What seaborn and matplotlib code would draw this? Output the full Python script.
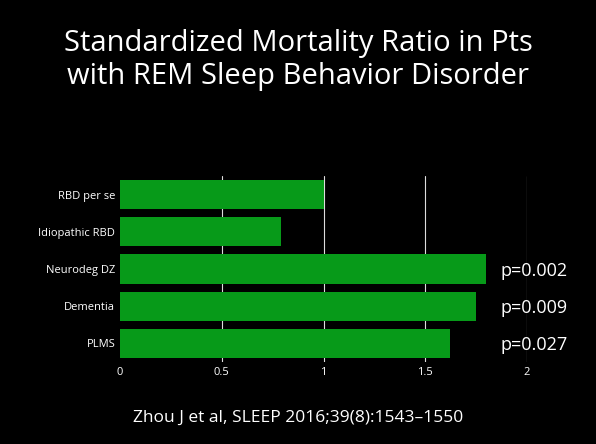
import matplotlib
matplotlib.use("Agg")
import matplotlib.pyplot as plt
import seaborn as sns
import pandas as pd

categories = ["RBD per se", "Idiopathic RBD", "Neurodeg DZ", "Dementia", "PLMS"]
smr = [1.0, 0.79, 1.80, 1.75, 1.62]
p_labels = ["", "", "p=0.002", "p=0.009", "p=0.027"]
xticks = [0, 0.5, 1, 1.5, 2]
xtick_labels = ["0", "0.5", "1", "1.5", "2"]

df = pd.DataFrame({"group": categories, "smr": smr})

sns.set_theme(style="dark")
plt.rcParams["font.family"] = ["Open Sans", "DejaVu Sans"]
plt.rcParams["text.color"] = "white"

fig = plt.figure(figsize=(5.96, 4.44), dpi=100, facecolor="black")
ax = fig.add_axes([120 / 596, 1 - 362 / 444, (527 - 120) / 596, (362 - 176) / 444])
ax.set_facecolor("black")

for x in xticks[1:]:
    ax.axvline(x, color="#dddddd", lw=0.8, zorder=0)

sns.barplot(data=df, x="smr", y="group", ax=ax, color="#079a19",
            saturation=1, width=0.78, zorder=2, edgecolor="none", linewidth=0)

for i, lab in enumerate(p_labels):
    if lab:
        ax.text(1.87, i + 0.05, lab, color="white", fontsize=13, va="center",
                ha="left", clip_on=False)

ax.set_xlim(0, 2)
ax.set_xticks(xticks)
ax.set_xticklabels(xtick_labels, color="white", fontsize=8)
ax.tick_params(axis="y", colors="white", labelsize=8, length=0)
ax.tick_params(axis="x", length=0)
ax.set_xlabel("")
ax.set_ylabel("")
for s in ax.spines.values():
    s.set_visible(False)

fig.text(0.5, 1 - 60 / 444, "Standardized Mortality Ratio in Pts\nwith REM Sleep Behavior Disorder",
         color="white", fontsize=21, ha="center", va="center",
         linespacing=1.2)
fig.text(0.5, 1 - 418 / 444, "Zhou J et al, SLEEP 2016;39(8):1543\u20131550",
         color="white", fontsize=12.5, ha="center", va="center")

fig.savefig("out.png", dpi=100, facecolor="black")
